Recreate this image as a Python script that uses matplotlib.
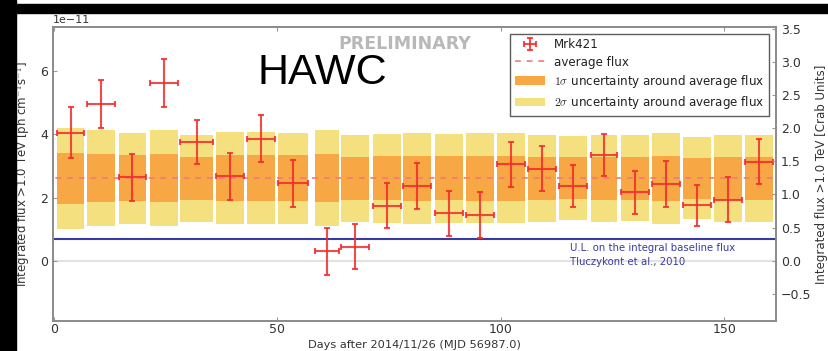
import numpy as np
import matplotlib
matplotlib.use('Agg')
import matplotlib.pyplot as plt
from matplotlib.patches import Patch, Rectangle
from matplotlib.ticker import MultipleLocator

plt.rcParams['mathtext.fontset'] = 'cm'

# bins (days after 2014/11/26)
bin_lo = [0.7, 7.45, 14.5, 21.5, 28.3, 36.2, 43.2, 50.2, 58.4, 64.3, 71.3, 78.2,
          85.2, 92.2, 99.2, 106.1, 113.1, 120.1, 127.0, 133.9, 140.9, 147.8, 154.7]
bin_hi = [6.8, 13.7, 20.65, 27.7, 35.6, 42.5, 49.5, 56.8, 63.8, 70.6, 77.6, 84.5,
          91.6, 98.4, 105.4, 112.3, 119.3, 126.1, 133.2, 140.1, 147.0, 154.0, 160.9]

# Mrk421 flux (1e-11 ph cm^-2 s^-1)
flux = [4.06, 4.97, 2.64, 5.64, 3.76, 2.67, 3.86, 2.45, 0.30, 0.45, 1.74, 2.38,
        1.50, 1.45, 3.06, 2.92, 2.36, 3.34, 2.17, 2.44, 1.76, 1.94, 3.14]
flux_err = [0.80, 0.76, 0.74, 0.76, 0.69, 0.73, 0.74, 0.74, 0.75, 0.70, 0.71, 0.73,
            0.70, 0.72, 0.71, 0.70, 0.67, 0.67, 0.68, 0.73, 0.65, 0.70, 0.70]

# 1 sigma width of band around average flux, per bin
band_sig = [0.80, 0.76, 0.725, 0.76, 0.685, 0.73, 0.73, 0.725, 0.76, 0.69, 0.70, 0.72,
            0.70, 0.71, 0.71, 0.69, 0.665, 0.685, 0.68, 0.72, 0.65, 0.69, 0.69]

avg_flux = 2.61
baseline_ul = 0.70
crab = 2.1   # 1 Crab in 1e-11 units
scale = 1e-11

lo = np.array(bin_lo)
hi = np.array(bin_hi)
cx = (lo + hi) / 2.
wx = hi - lo
f = np.array(flux) * scale
fe = np.array(flux_err) * scale
sig = np.array(band_sig) * scale
avg = avg_flux * scale

c_red = '#f22b2b'
c_orange = '#f7a845'
c_yellow = '#f4e07e'

fig = plt.figure(figsize=(8.29, 3.51), dpi=100)
ax = fig.add_axes([0.064, 0.086, 0.872, 0.837])

ax.axhline(0, color='#e2e2e2', lw=1.5, zorder=0)
ax.bar(cx, 4*sig, bottom=avg-2*sig, width=wx, color=c_yellow, linewidth=0, zorder=1)
ax.bar(cx, 2*sig, bottom=avg-sig, width=wx, color=c_orange, linewidth=0, zorder=2)
avg_line, = ax.plot([-5, 170], [avg, avg], color='#f27a7a', lw=1.2, ls=(0, (3.5, 3.5)), zorder=3)
ax.axhline(baseline_ul*scale, color='#3a3aa6', lw=1.5, zorder=3)
eb = ax.errorbar(cx, f, xerr=wx/2., yerr=fe, fmt='none', ecolor=c_red, elinewidth=1.5,
                 capsize=2.5, capthick=1.5, alpha=0.85, zorder=4)

ax.text(115.4, 0.55*scale, 'U.L. on the integral baseline flux\nTluczykont et al., 2010',
        color='#3a3aa6', fontsize=7.3, va='top', ha='left', linespacing=1.5)

ax.set_xlim(-0.2, 161.6)
ax.set_ylim(-1.9*scale, 7.4*scale)
ax.xaxis.set_major_locator(MultipleLocator(50))
ax.yaxis.set_major_locator(MultipleLocator(2*scale))

ax2 = ax.twinx()
ax2.set_ylim(-1.9/crab, 7.4/crab)
ax2.yaxis.set_major_locator(MultipleLocator(0.5))

for a in (ax, ax2):
    for s in a.spines.values():
        s.set_color('#8c8c8c')
        s.set_linewidth(1.3)
    a.tick_params(direction='in', color='#999999', labelcolor='#333333', labelsize=9, length=3)
ax.tick_params(top=True)
ax.tick_params(axis='x', pad=1.5)
ax.yaxis.get_offset_text().set_fontsize(8)
ax.yaxis.get_offset_text().set_color('#333333')

ax.set_xlabel('Days after 2014/11/26 (MJD 56987.0)', fontsize=8.2, color='#333333', va='bottom')
ax.xaxis.set_label_coords(0.5, -0.1)
ax.set_ylabel(r'Integrated flux >1.0 TeV [ph cm$^{-1}$s$^{-1}$]', fontsize=8.5, color='#333333', labelpad=6)
ax2.set_ylabel('Integrated flux >1.0 TeV [Crab Units]', fontsize=8.5, color='#333333', labelpad=3)

handles = [eb, avg_line, Patch(color=c_orange, lw=0), Patch(color=c_yellow, lw=0)]
labels = ['Mrk421', 'average flux', r'$1\sigma$ uncertainty around average flux',
          r'$2\sigma$ uncertainty around average flux']
leg = ax2.legend(handles, labels, loc='upper right', fontsize=8.6, frameon=True,
                 fancybox=False, borderaxespad=0.55, handlelength=2.5, labelspacing=0.35)
leg.get_frame().set_edgecolor('#333333')
leg.get_frame().set_linewidth(1.0)
for t in leg.get_texts():
    t.set_color('#222222')

fig.text(0.389, 0.761, 'HAWC', fontsize=31, family='Liberation Sans', ha='center', va='baseline')
fig.text(0.4885, 0.8746, 'PRELIMINARY', fontsize=12.5, fontweight='bold', color='#b8b8b8',
         ha='center', va='center')

# screenshot borders
fig.add_artist(Rectangle((0, 0), 16/829., 1, transform=fig.transFigure, color='black', zorder=10))
fig.add_artist(Rectangle((0, 1-13/351.), 1, 9/351., transform=fig.transFigure, color='black', zorder=10))

fig.savefig('out.png', dpi=100)
